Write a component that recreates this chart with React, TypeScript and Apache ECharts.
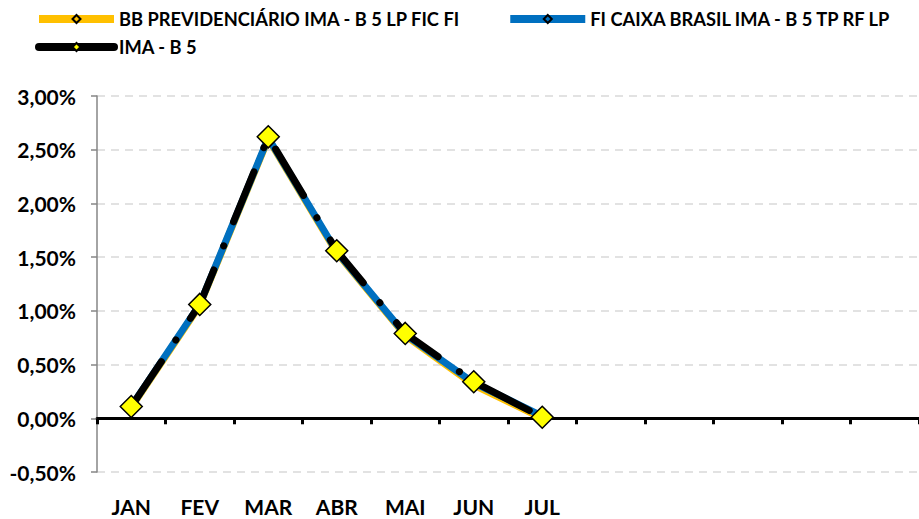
import React, { useEffect, useRef } from "react";
import * as echarts from "echarts";

const months = ["JAN", "FEV", "MAR", "ABR", "MAI", "JUN", "JUL", "AGO", "SET", "OUT", "NOV", "DEZ"];
const shownMonths = 7;
const seriesNames = [
  "BB PREVIDENCIÁRIO IMA - B 5 LP FIC FI",
  "FI CAIXA BRASIL IMA - B 5 TP RF LP",
  "IMA - B 5",
];
const bbValues = [0.10, 1.05, 2.60, 1.54, 0.77, 0.31, 0.00];
const caixaValues = [0.11, 1.06, 2.61, 1.55, 0.78, 0.33, 0.02];
const imaValues = [0.11, 1.06, 2.62, 1.56, 0.79, 0.34, 0.01];
const yMin = -0.5;
const yMax = 3.0;
const yStep = 0.5;

const FONT = "Lato";

export default function App() {
  const ref = useRef<HTMLDivElement>(null);
  useEffect(() => {
    if (!ref.current) return;
    const chart = echarts.init(ref.current, null, { renderer: "svg" });
    const legendText = { fontSize: 18.3, fontWeight: "bold", fontFamily: FONT, color: "#000" };
    chart.setOption({
      animation: false,
      backgroundColor: "#fff",
      grid: { left: 97, right: 0, top: 96, bottom: 47, containLabel: false },
      legend: [
        {
          data: [seriesNames[0], seriesNames[1]],
          left: 35,
          top: 10,
          padding: 0,
          itemWidth: 75,
          itemHeight: 10,
          itemGap: 46,
          textStyle: legendText,
          lineStyle: { type: "solid", width: 8 },
        },
        {
          data: [seriesNames[2]],
          left: 35,
          top: 38,
          padding: 0,
          itemWidth: 75,
          itemHeight: 10,
          itemGap: 46,
          textStyle: legendText,
          lineStyle: { type: "solid", width: 8 },
        },
      ],
      xAxis: [
        {
          type: "category",
          data: months,
          boundaryGap: true,
          position: "bottom",
          axisLine: { show: false, onZero: false },
          axisTick: { show: false },
          splitLine: { show: false },
          axisLabel: {
            interval: 0,
            margin: 24,
            fontSize: 21,
            fontWeight: "bold",
            fontFamily: FONT,
            color: "#000",
            formatter: (v: string, i: number) => (i < shownMonths ? v : ""),
          },
        },
        {
          type: "category",
          data: months,
          boundaryGap: true,
          position: "top",
          axisLine: { show: true, onZero: true, lineStyle: { color: "#000", width: 3 } },
          axisTick: { show: true, inside: true, length: 6, lineStyle: { color: "#000", width: 3 } },
          axisLabel: { show: false },
          splitLine: { show: false },
        },
      ],
      yAxis: {
        type: "value",
        min: yMin,
        max: yMax,
        interval: yStep,
        axisLine: { show: true, lineStyle: { color: "#868686", width: 1.5 } },
        axisTick: { show: true, length: 6, lineStyle: { color: "#868686", width: 1.5 } },
        splitLine: { show: true, lineStyle: { color: "#d9d9d9", width: 1.5, type: [8, 6] } },
        axisLabel: {
          margin: 21,
          fontSize: 21,
          fontWeight: "bold",
          fontFamily: FONT,
          color: "#000",
          formatter: (v: number) => v.toFixed(2).replace(".", ",") + "%",
        },
      },
      series: [
        {
          name: seriesNames[0],
          type: "line",
          data: bbValues,
          xAxisIndex: 0,
          symbol: "diamond",
          symbolSize: 7,
          lineStyle: { color: "#FFC000", width: 7 },
          itemStyle: { color: "#FFC000", borderColor: "#000", borderWidth: 1 },
        },
        {
          name: seriesNames[1],
          type: "line",
          data: caixaValues,
          xAxisIndex: 0,
          symbol: "diamond",
          symbolSize: 7,
          lineStyle: { color: "#0070C0", width: 7 },
          itemStyle: { color: "#0070C0", borderColor: "#000", borderWidth: 1 },
        },
        {
          name: seriesNames[2],
          type: "line",
          data: imaValues,
          xAxisIndex: 0,
          symbol: "diamond",
          symbolSize: 22,
          lineStyle: { color: "#000", width: 7, type: [54, 26, 0.1, 26], cap: "round" },
          itemStyle: { color: "#FFFF00", borderColor: "#000", borderWidth: 1.5 },
        },
      ],
    });
    return () => chart.dispose();
  }, []);
  return <div ref={ref} style={{ width: 919, height: 519, position: "absolute", left: 0, top: 0 }} />;
}
